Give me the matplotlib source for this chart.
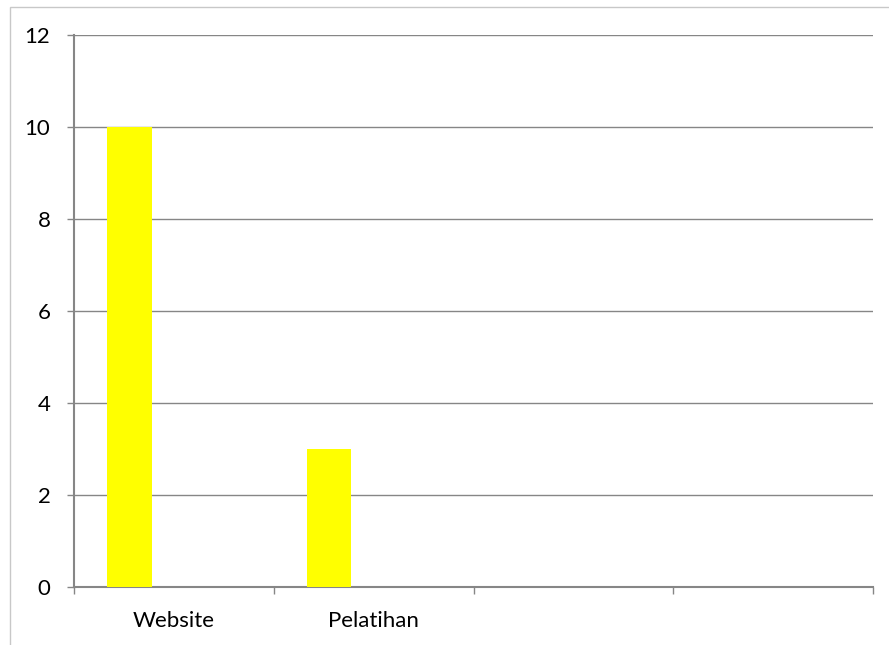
import numpy as np
import matplotlib.pyplot as plt
from matplotlib.patches import Rectangle

categories = ["Website", "Pelatihan", "", ""]
values = [10, 3, 0, 0]
yticks = [0, 2, 4, 6, 8, 10, 12]

grey = "#868686"
plt.rcParams["font.family"] = ["Lato", "DejaVu Sans"]

fig = plt.figure(figsize=(8.89, 6.45), dpi=100)
# chart area border (left and top edges show)
fig.patches.append(Rectangle((10 / 889, -0.1), 1.2, (645 - 7) / 645 + 0.1,
                             transform=fig.transFigure, fill=False,
                             edgecolor="#c8c8c8", linewidth=1))

ax = fig.add_axes([74 / 889, (645 - 587) / 645, (873 - 74) / 889, (587 - 35) / 645])

# clustered layout: 3 series per category with 150% gap, only the first has data
n_series = 3
w = 1 / (n_series + 1.5)
x = np.arange(len(categories))
ax.bar(x + 0.75 * w + w / 2, values, width=w, color="#ffff00", align="center", zorder=3)

ax.set_xlim(0, len(categories))
ax.set_ylim(0, 12)
ax.set_yticks(yticks)
ax.set_yticklabels([str(t) for t in yticks], fontsize=16)
ax.set_xticks(np.arange(len(categories) + 1))
ax.set_xticklabels([])
ax.set_xticks(x + 0.5, minor=True)
ax.set_xticklabels(categories, minor=True, fontsize=16)

ax.grid(axis="y", color=grey, linewidth=1, zorder=0)
for s in ["top", "right"]:
    ax.spines[s].set_visible(False)
for s in ["left", "bottom"]:
    ax.spines[s].set_color(grey)
    ax.spines[s].set_linewidth(1.5)

ax.tick_params(axis="y", direction="out", length=5, width=1, color=grey, pad=12)
ax.tick_params(axis="x", which="major", direction="out", length=5, width=1, color=grey)
ax.tick_params(axis="x", which="minor", length=0, pad=17)

fig.savefig("out.png", dpi=100)
